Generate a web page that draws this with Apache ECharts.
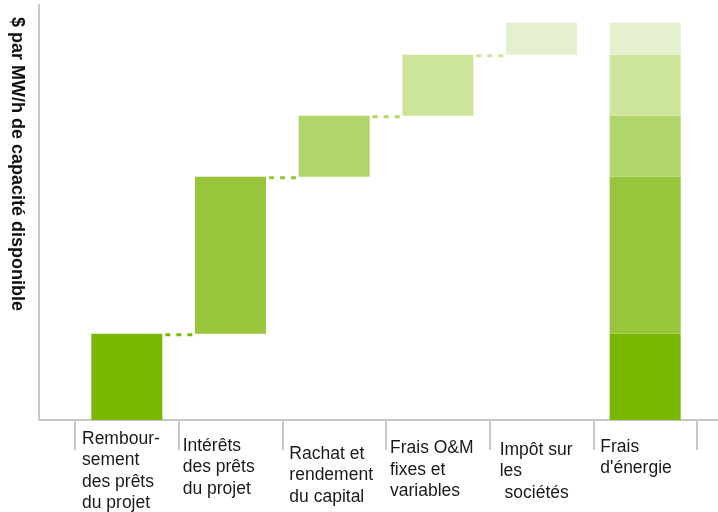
<!DOCTYPE html>
<html><head><meta charset="utf-8">
<script src="https://cdn.jsdelivr.net/npm/echarts@6/dist/echarts.min.js"></script>
<style>html,body{margin:0;padding:0;background:#fff}#c{width:718px;height:512px}</style>
</head><body><div id="c"></div>
<script>
// ---- data ----
const categories = [
  'Rembour-\nsement\ndes prêts\ndu projet',
  'Intérêts\ndes prêts\ndu projet',
  'Rachat et\nrendement\ndu capital',
  'Frais O&M\nfixes et\nvariables',
  'Impôt sur\nles\n sociétés',
  "Frais\nd'énergie"
];
const costs = [20.8, 37.8, 14.7, 14.7, 7.7];   // $ par MWh (échelle relative)
const yTitle = '$ par MW/h de capacité disponible';

// ---- styles ----
const colors = ['#7ab800', '#98c53a', '#b0d569', '#cde49b', '#e5f0cf'];
const labelPad = [[0, 7], [7, 4], [15, 7], [9.5, 4], [11, 10], [8, 7]];
const FONT = '"Liberation Sans", Arial, sans-serif';
const BAR_W = 71;
const axisGray = '#c8c8c8';

// ---- derived ----
const bases = [];
let cum = 0;
costs.forEach(v => { bases.push(cum); cum += v; });

const series = [];
series.push({
  type: 'bar', stack: 'w', xAxisIndex: 1, yAxisIndex: 1, barWidth: BAR_W, silent: true,
  itemStyle: { color: 'transparent' },
  data: bases.concat(['-'])
});
series.push({
  type: 'bar', stack: 'w', xAxisIndex: 1, yAxisIndex: 1, barWidth: BAR_W,
  data: costs.map((v, i) => ({ value: v, itemStyle: { color: colors[i] } })).concat(['-'])
});
costs.forEach((v, i) => {
  series.push({
    type: 'bar', stack: 'w', xAxisIndex: 1, yAxisIndex: 1, barWidth: BAR_W,
    itemStyle: { color: colors[i] },
    data: costs.map(() => '-').concat([v])
  });
});
series.push({
  type: 'custom', xAxisIndex: 1, yAxisIndex: 1, silent: true,
  encode: { x: 0, y: 1 },
  data: costs.slice(0, 4).map((v, i) => [i, bases[i] + v]),
  renderItem: function (params, api) {
    const i = api.value(0), v = api.value(1);
    const p1 = api.coord([i, v]);
    const p2 = api.coord([i + 1, v]);
    const half = BAR_W / 2;
    return {
      type: 'line',
      shape: { x1: p1[0] + half + 3, y1: p1[1] + 1, x2: p2[0] - half, y2: p2[1] + 1 },
      style: { stroke: colors[i], lineWidth: 3, lineDash: [5, 6] }
    };
  }
});

const labelData = categories.map((c, i) => ({
  value: c,
  textStyle: {
    align: 'left', verticalAlign: 'top',
    padding: [labelPad[i][0], 0, 0, labelPad[i][1]],
    fontSize: 17.5, lineHeight: 21.5, color: '#1a1a1a', fontFamily: FONT
  }
})).concat([{ value: '' }]);

const option = {
  animation: false,
  backgroundColor: '#fff',
  grid: [
    { left: 39, right: 0, top: 5, bottom: 92, outerBoundsMode: 'none' },
    { left: 75, right: 21, top: 5, bottom: 92, outerBoundsMode: 'none' }
  ],
  xAxis: [
    { gridIndex: 0, type: 'value', min: 0, max: 1,
      axisLine: { show: true, lineStyle: { color: axisGray, width: 2 } },
      axisTick: { show: false }, axisLabel: { show: false }, splitLine: { show: false } },
    { gridIndex: 1, type: 'category', position: 'top', data: categories, show: false },
    { gridIndex: 1, type: 'category', position: 'bottom', boundaryGap: false,
      data: labelData,
      axisLine: { show: false },
      axisTick: { show: true, length: 30, interval: 0, lineStyle: { color: axisGray, width: 2 } },
      axisLabel: { interval: 0, align: 'left', verticalAlign: 'top', margin: 8,
        fontSize: 17.5, lineHeight: 21.5, color: '#1a1a1a', fontFamily: FONT },
      splitLine: { show: false } }
  ],
  yAxis: [
    { gridIndex: 0, type: 'value', min: 0, max: 1,
      axisLine: { show: true, lineStyle: { color: axisGray, width: 2 } },
      axisTick: { show: false }, axisLabel: { show: false }, splitLine: { show: false } },
    { gridIndex: 1, type: 'value', min: 0, max: 100, show: false, splitLine: { show: false } }
  ],
  graphic: [{
    type: 'text', x: 17, y: 17, rotation: -Math.PI / 2,
    style: { text: yTitle, fill: '#111', font: 'bold 18px ' + FONT, align: 'left', verticalAlign: 'middle' }
  }],
  series: series
};

const chart = echarts.init(document.getElementById('c'), null, { renderer: 'canvas' });
chart.setOption(option);
</script>
</body></html>
